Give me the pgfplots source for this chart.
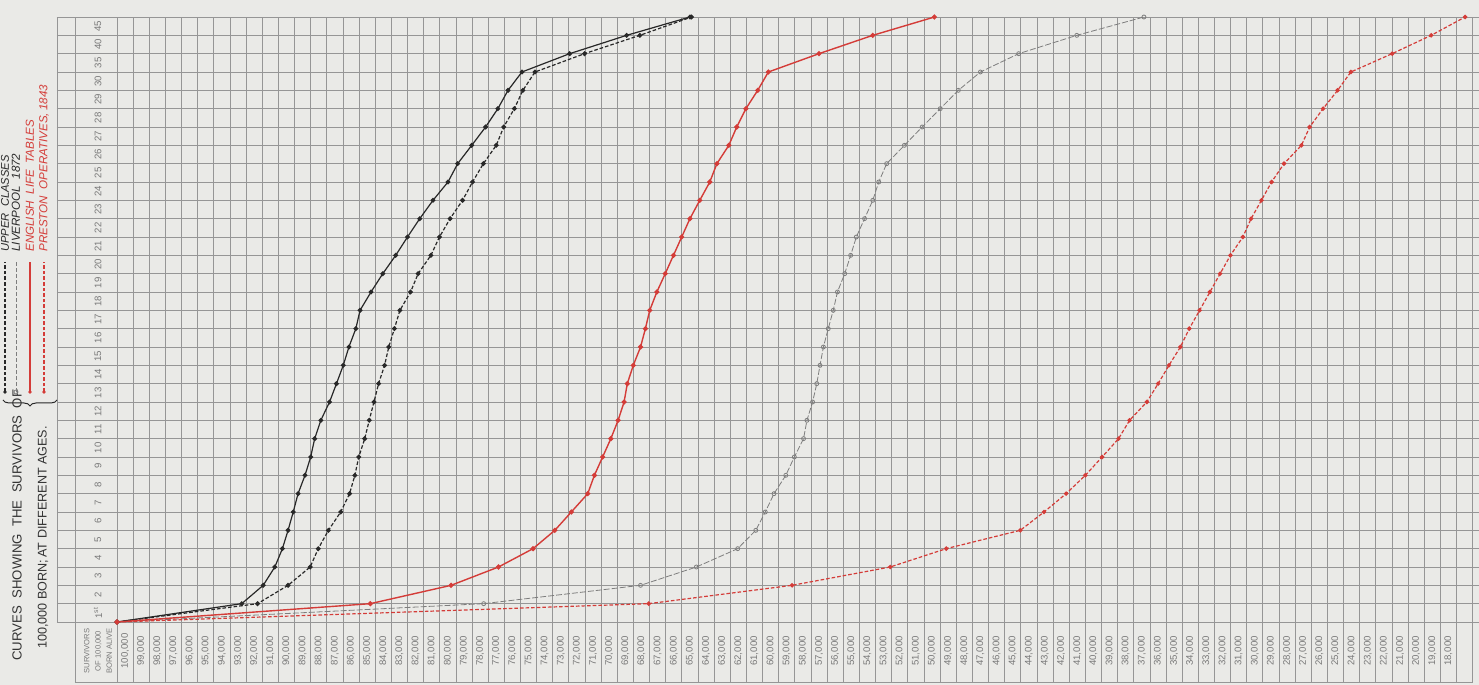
\documentclass[border=0pt]{standalone}
\usepackage{pgfplots}
\pgfplotsset{compat=1.18}
\usepackage{pgfplotstable}
\usetikzlibrary{decorations.pathreplacing}
\usepackage{fontspec}
\setmainfont{Liberation Sans}
\definecolor{paper}{RGB}{234,234,231}
\definecolor{gridc}{RGB}{150,150,150}
\definecolor{redc}{RGB}{212,60,56}
\definecolor{inkc}{RGB}{40,40,40}
\definecolor{greyc}{RGB}{125,125,125}
\definecolor{labc}{RGB}{120,120,120}

% survivors of 100,000 born; row = position of the age on the chart (ages 0..30, 35, 40, 45)
\pgfplotstableread{
age row surv
0 0 100000
1 1 92270
2 2 90940
3 3 90220
4 4 89750
5 5 89400
6 6 89080
7 7 88780
8 8 88350
9 9 88000
10 10 87750
11 11 87370
12 12 86830
13 13 86400
14 14 85980
15 15 85630
16 16 85200
17 17 84940
18 18 84260
19 19 83530
20 20 82730
21 21 82000
22 22 81240
23 23 80420
24 24 79490
25 25 78890
26 26 78020
27 27 77160
28 28 76400
29 29 75770
30 30 74910
35 31 71950
40 32 68420
45 33 64500
}\upperA

\pgfplotstableread{
age row surv
0 0 100000
1 1 91290
2 2 89400
3 3 88030
4 4 87530
5 5 86900
6 6 86140
7 7 85590
8 8 85260
9 9 85020
10 10 84650
11 11 84370
12 12 84080
13 13 83790
14 14 83420
15 15 83160
16 16 82810
17 17 82470
18 18 81810
19 19 81340
20 20 80550
21 21 80020
22 22 79360
23 23 78590
24 24 77970
25 25 77300
26 26 76500
27 27 76040
28 28 75380
29 29 74850
30 30 74100
35 31 71030
40 32 67600
45 33 64400
}\upperB

\pgfplotstableread{
age row surv
0 0 100000
1 1 77280
2 2 67560
3 3 64100
4 4 61540
5 5 60420
6 6 59830
7 7 59290
8 8 58560
9 9 58030
10 10 57460
11 11 57250
12 12 56900
13 13 56640
14 14 56440
15 15 56230
16 16 55930
17 17 55620
18 18 55360
19 19 54910
20 20 54540
21 21 54190
22 22 53680
23 23 53170
24 24 52800
25 25 52310
26 26 51210
27 27 50110
28 28 48990
29 29 47870
30 30 46500
35 31 44130
40 32 40530
45 33 36370
}\liverpool

\pgfplotstableread{
age row surv
0 0 100000
1 1 84300
2 2 79300
3 3 76360
4 4 74220
5 5 72870
6 6 71850
7 7 70830
8 8 70420
9 9 69910
10 10 69400
11 11 68950
12 12 68580
13 13 68380
14 14 68010
15 15 67560
16 16 67260
17 17 66990
18 18 66550
19 19 66030
20 20 65520
21 21 65010
22 22 64500
23 23 63890
24 24 63270
25 25 62830
26 26 62090
27 27 61600
28 28 61030
29 29 60300
30 30 59640
35 31 56500
40 32 53170
45 33 49350
}\english

\pgfplotstableread{
age row surv
0 0 100000
1 1 67050
2 2 58170
3 3 52090
4 4 48620
5 5 44030
6 6 42560
7 7 41190
8 8 40000
9 9 38960
10 10 37940
11 11 37260
12 12 36190
13 13 35490
14 14 34820
15 15 34110
16 16 33560
17 17 32920
18 18 32280
19 19 31650
20 20 31010
21 21 30240
22 22 29730
23 23 29090
24 24 28460
25 25 27690
26 26 26610
27 27 26100
28 28 25270
29 29 24370
30 30 23550
35 31 20990
40 32 18570
45 33 16470
}\preston

\begin{document}
\begin{tikzpicture}
\fill[paper] (-58.5pt,-31.5pt) rectangle (681pt,311pt);
\useasboundingbox (-58.5pt,-31.5pt) rectangle (681pt,311pt);
% frame of the label column and header box
\draw[gridc, line width=0.4pt] (-30pt,0pt) -- (-30pt,302.5pt);
\draw[gridc, line width=0.4pt] (-21pt,-30pt) -- (-21pt,302.5pt);
\draw[gridc, line width=0.4pt] (-21pt,-30pt) -- (678pt,-30pt);
\node[rotate=90, align=center, text=labc, font=\fontsize{3.8}{5.6}\selectfont, inner sep=0pt] at (-9.5pt,-14.5pt) {SURVIVORS\\OF 100,000\\BORN ALIVE};
% title
\node[rotate=90, anchor=west, font=\fontsize{6.6}{7}\selectfont, text=black!80, inner sep=0pt] at (-50pt,-19.5pt) {CURVES\ \ SHOWING\ \ THE\ \ SURVIVORS\ \ OF};
\node[rotate=90, anchor=west, font=\fontsize{6.3}{7}\selectfont, text=black!80, inner sep=0pt] at (-37pt,-13.5pt) {100,000 BORN;\,AT DIFFERENT AGES.};
% key
\draw[inkc, line width=0.5pt, decorate, decoration={brace, amplitude=3pt}] (-30pt,111pt) -- (-57pt,111pt);
\draw[inkc, line width=0.6pt, dash pattern=on 1.8pt off 1pt] (-56pt,115pt) -- (-56pt,180pt);
\fill[inkc] (-56pt,115pt) circle (0.9pt);
\node[rotate=90, anchor=west, inner sep=0pt, text=inkc, font=\fontsize{5.6}{6}\selectfont\itshape] at (-56pt,185pt) {UPPER\ \ CLASSES};
\draw[greyc, line width=0.4pt, dash pattern=on 2pt off 1pt] (-50.5pt,115pt) -- (-50.5pt,180pt);
\draw[greyc, line width=0.4pt] (-50.5pt,115pt) circle (1pt);
\node[rotate=90, anchor=west, inner sep=0pt, text=inkc, font=\fontsize{5.8}{6}\selectfont\itshape] at (-50.5pt,185pt) {LIVERPOOL\ \ 1872};
\draw[redc, line width=0.7pt] (-43.5pt,115pt) -- (-43.5pt,180pt);
\fill[redc] (-43.5pt,115pt) circle (0.9pt);
\node[rotate=90, anchor=west, inner sep=0pt, text=redc, font=\fontsize{5.8}{6}\selectfont\itshape] at (-43.5pt,185pt) {ENGLISH\ \ LIFE\ \ TABLES};
\draw[redc, line width=0.6pt, dash pattern=on 1.8pt off 1pt] (-36.5pt,115pt) -- (-36.5pt,180pt);
\fill[redc] (-36.5pt,115pt) circle (0.9pt);
\node[rotate=90, anchor=west, inner sep=0pt, text=redc, font=\fontsize{5.8}{6}\selectfont\itshape] at (-36.5pt,185pt) {PRESTON\ \ OPERATIVES,\,1843};
\begin{axis}[
  at={(0pt,0pt)}, anchor=south west,
  scale only axis, width=681pt, height=302.5pt,
  x dir=reverse, xmin=15610, xmax=100000,
  ymin=0, ymax=33,
  clip=false,
  axis line style={gridc, line width=0.4pt},
  xtick={18000,19000,...,100000},
  minor xtick={16000,17000,...,100000},
  ytick={0.5,1.5,...,32.5},
  yticklabels={1\textsuperscript{st},2,3,4,5,6,7,8,9,10,11,12,13,14,15,16,17,18,19,20,21,22,23,24,25,26,27,28,29,30,35,40,45},
  minor ytick={0,1,...,33},
  xminorgrids=true, yminorgrids=true,
  minor grid style={gridc, line width=0.4pt},
  major tick length=0pt,
  minor tick length=30pt,
  tick align=outside, tick pos=left,
  minor tick style={gridc, line width=0.4pt},
  scaled x ticks=false,
  /pgf/number format/assume math mode=true,
  /pgf/number format/fixed,
  /pgf/number format/precision=0,
  /pgf/number format/1000 sep={,},
  xticklabel style={xshift=4.03pt, yshift=-14.5pt, rotate=90, anchor=center, inner sep=0pt, text=labc, font=\fontsize{4.8}{5}\selectfont},
  yticklabel style={xshift=-9.5pt, rotate=90, anchor=center, inner sep=0pt, text=labc, font=\fontsize{4.8}{5}\selectfont},
]
\addplot[inkc, line width=0.6pt, mark=*, mark size=0.9pt] table[x=surv, y=row] {\upperA};
\addplot[inkc, line width=0.6pt, dash pattern=on 1.8pt off 1pt, mark=*, mark size=0.9pt, mark options={solid}] table[x=surv, y=row] {\upperB};
\addplot[greyc, line width=0.4pt, dash pattern=on 3pt off 1pt, mark=o, mark size=1pt, mark options={solid}] table[x=surv, y=row] {\liverpool};
\addplot[redc, line width=0.7pt, mark=*, mark size=0.9pt] table[x=surv, y=row] {\english};
\addplot[redc, line width=0.6pt, dash pattern=on 1.8pt off 1pt, mark=*, mark size=0.8pt, mark options={solid}] table[x=surv, y=row] {\preston};
\end{axis}
\end{tikzpicture}
\end{document}
